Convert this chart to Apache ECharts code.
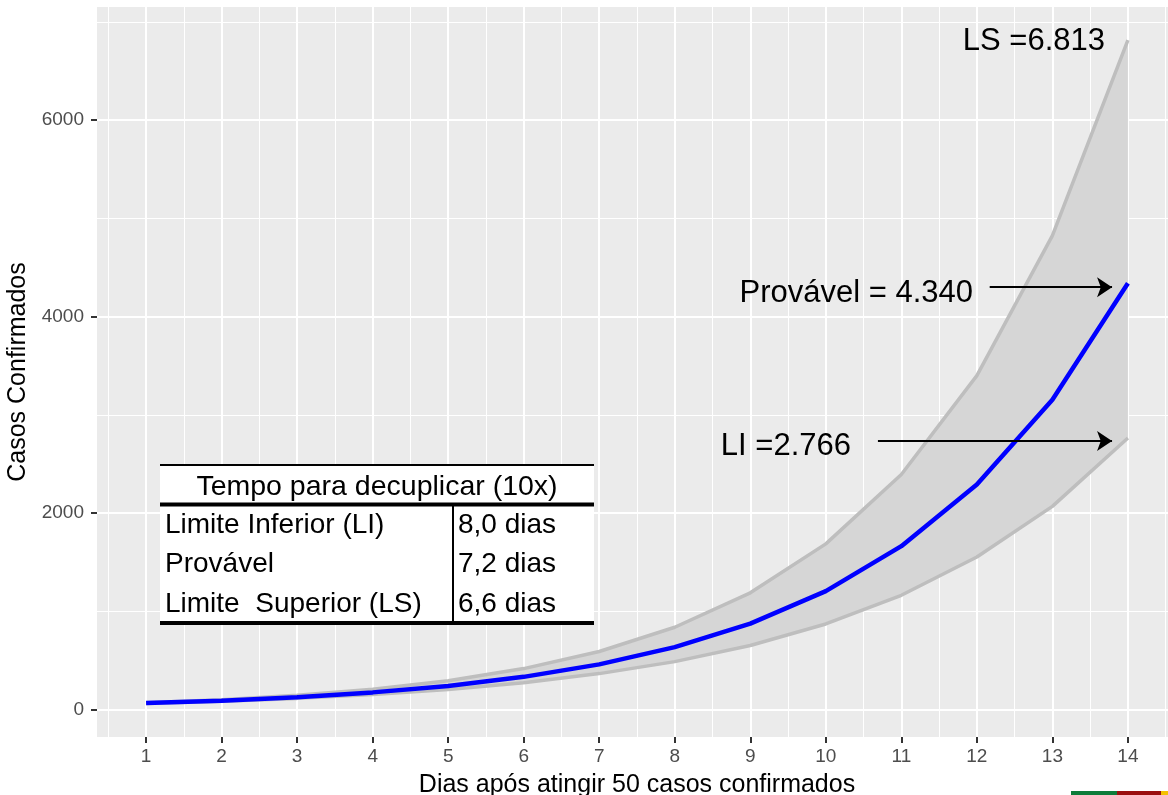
<!DOCTYPE html>
<html>
<head>
<meta charset="utf-8">
<script src="https://cdn.jsdelivr.net/npm/echarts@6/dist/echarts.min.js"></script>
<style>
  html, body { margin: 0; padding: 0; background: #fff; }
  #chart { width: 1168px; height: 795px; }
</style>
</head>
<body>
<div id="chart"></div>
<script>
// dados
const dias = [1, 2, 3, 4, 5, 6, 7, 8, 9, 10, 11, 12, 13, 14];
const provavel = [68, 93, 128, 177, 243, 335, 462, 637, 877, 1208, 1665, 2292, 3155, 4340];
const limiteInferior = [65, 87, 116, 155, 207, 276, 368, 490, 654, 873, 1165, 1555, 2070, 2766];
const limiteSuperior = [72, 103, 147, 208, 296, 419, 593, 840, 1190, 1688, 2394, 3400, 4825, 6813];

const xTicks = [1, 2, 3, 4, 5, 6, 7, 8, 9, 10, 11, 12, 13, 14];
const xMinor = [0.5, 1.5, 2.5, 3.5, 4.5, 5.5, 6.5, 7.5, 8.5, 9.5, 10.5, 11.5, 12.5, 13.5, 14.5];
const yTicks = [0, 2000, 4000, 6000];
const yMinor = [1000, 3000, 5000, 7000];

const tabelaTitulo = "Tempo para decuplicar (10x)";
const tabelaNomes = ["Limite Inferior (LI)", "Provável", "Limite  Superior (LS)"];
const tabelaDias = ["8,0 dias", "7,2 dias", "6,6 dias"];

const FONT = "'Liberation Sans', Arial, sans-serif";

const pares = (vals) => dias.map((d, i) => [d, vals[i]]);

const chart = echarts.init(document.getElementById("chart"));

// faixa cinza entre LI e LS, um polígono só
function renderFaixa(params, api) {
  if (params.dataIndex !== 0) return null;
  const pts = [];
  dias.forEach((d, i) => pts.push(api.coord([d, limiteSuperior[i]])));
  for (let i = dias.length - 1; i >= 0; i--) pts.push(api.coord([dias[i], limiteInferior[i]]));
  return { type: "polygon", shape: { points: pts }, style: { fill: "#d6d6d6" } };
}

// tabela (canto inferior esquerdo) - z alto para ficar acima das linhas de grade
const Z = 100;
const tab = [];
tab.push({ type: "rect", z: Z, shape: { x: 160, y: 465, width: 434, height: 158 }, style: { fill: "#fff" } });
tab.push({ type: "line", z: Z + 1, shape: { x1: 160, y1: 465, x2: 594, y2: 465 }, style: { stroke: "#000", lineWidth: 2 } });
tab.push({ type: "line", z: Z + 1, shape: { x1: 160, y1: 504.5, x2: 594, y2: 504.5 }, style: { stroke: "#000", lineWidth: 4 } });
tab.push({ type: "line", z: Z + 1, shape: { x1: 160, y1: 623, x2: 594, y2: 623 }, style: { stroke: "#000", lineWidth: 4 } });
tab.push({ type: "line", z: Z + 1, shape: { x1: 453, y1: 504, x2: 453, y2: 623 }, style: { stroke: "#000", lineWidth: 2 } });
tab.push({ type: "text", z: Z + 1, x: 377, y: 487, style: { text: tabelaTitulo, font: "28.5px " + FONT, fill: "#000", align: "center", verticalAlign: "middle" } });
tabelaNomes.forEach((n, i) => {
  tab.push({ type: "text", z: Z + 1, x: 165, y: 525 + i * 39.5, style: { text: n, font: "28px " + FONT, fill: "#000", align: "left", verticalAlign: "middle" } });
  tab.push({ type: "text", z: Z + 1, x: 458, y: 525 + i * 39.5, style: { text: tabelaDias[i], font: "28px " + FONT, fill: "#000", align: "left", verticalAlign: "middle" } });
});

const option = {
  animation: false,
  grid: {
    left: 97, right: -9, top: 7, bottom: 58,
    outerBoundsMode: "none", containLabel: false,
    show: true, backgroundColor: "#ebebeb", borderWidth: 0
  },
  xAxis: [
    {
      type: "value", min: 0.35, max: 14.65,
      name: "Dias após atingir 50 casos confirmados",
      nameLocation: "middle", nameGap: 36,
      nameTextStyle: { color: "#000", fontSize: 25, fontFamily: FONT },
      axisLine: { show: false, onZero: false },
      axisTick: { show: true, length: 6, lineStyle: { color: "#333", width: 2 }, customValues: xTicks },
      axisLabel: { color: "#4d4d4d", fontSize: 19, fontFamily: FONT, margin: 10, customValues: xTicks },
      splitLine: { show: true, lineStyle: { color: "#fff", width: 2 } }
    },
    {
      type: "value", min: 0.35, max: 14.65, position: "bottom",
      axisLine: { show: false, onZero: false },
      axisTick: { show: true, length: 0, customValues: xMinor },
      axisLabel: { show: false, customValues: xMinor },
      splitLine: { show: true, lineStyle: { color: "#fff", width: 1 } }
    }
  ],
  yAxis: [
    {
      type: "value", min: -277, max: 7151,
      name: "Casos Confirmados",
      nameLocation: "middle", nameGap: 54,
      nameTextStyle: { color: "#000", fontSize: 25, fontFamily: FONT },
      axisLine: { show: false, onZero: false },
      axisTick: { show: true, length: 6, lineStyle: { color: "#333", width: 2 }, customValues: yTicks },
      axisLabel: { color: "#4d4d4d", fontSize: 19, fontFamily: FONT, margin: 13, customValues: yTicks, formatter: (v) => String(v) },
      splitLine: { show: true, lineStyle: { color: "#fff", width: 2 } }
    },
    {
      type: "value", min: -277, max: 7151,
      axisLine: { show: false, onZero: false },
      axisTick: { show: true, length: 0, customValues: yMinor },
      axisLabel: { show: false, customValues: yMinor },
      splitLine: { show: true, lineStyle: { color: "#fff", width: 1 } }
    }
  ],
  series: [
    {
      name: "faixa", type: "custom", renderItem: renderFaixa, clip: true, silent: true,
      data: dias.map((d, i) => [d, limiteInferior[i], limiteSuperior[i]]),
      encode: { x: 0, y: [1, 2] }
    },
    {
      name: "LI", type: "line", data: pares(limiteInferior),
      symbol: "none", lineStyle: { color: "#bebebe", width: 3.5 }
    },
    {
      name: "LS", type: "line", data: pares(limiteSuperior),
      symbol: "none", lineStyle: { color: "#bebebe", width: 3.5 }
    },
    {
      name: "Provável", type: "line", data: pares(provavel),
      symbol: "none", lineStyle: { color: "#0000ff", width: 4.5 },
      markLine: {
        silent: true, animation: false,
        symbol: ["none", "arrow"], symbolSize: 15,
        label: { show: false },
        lineStyle: { color: "#000", width: 2, type: "solid" },
        data: [
          [{ coord: [12.17, 4300] }, { coord: [13.79, 4300] }],
          [{ coord: [10.69, 2734] }, { coord: [13.79, 2734] }]
        ]
      }
    }
  ],
  graphic: [
    { type: "text", z: Z, x: 1105, y: 41, style: { text: "LS =6.813", font: "31px " + FONT, fill: "#000", align: "right", verticalAlign: "middle" } },
    { type: "text", z: Z, x: 973, y: 293, style: { text: "Provável = 4.340", font: "31px " + FONT, fill: "#000", align: "right", verticalAlign: "middle" } },
    { type: "text", z: Z, x: 851, y: 446, style: { text: "LI =2.766", font: "31px " + FONT, fill: "#000", align: "right", verticalAlign: "middle" } },
    { type: "group", z: Z, children: tab },
    { type: "rect", z: Z, shape: { x: 1071, y: 791, width: 46, height: 4 }, style: { fill: "#0e7c3a" } },
    { type: "rect", z: Z, shape: { x: 1117, y: 791, width: 44, height: 4 }, style: { fill: "#9b0f0f" } },
    { type: "rect", z: Z, shape: { x: 1161, y: 791, width: 7, height: 4 }, style: { fill: "#f5c000" } }
  ]
};

chart.setOption(option);
</script>
</body>
</html>
